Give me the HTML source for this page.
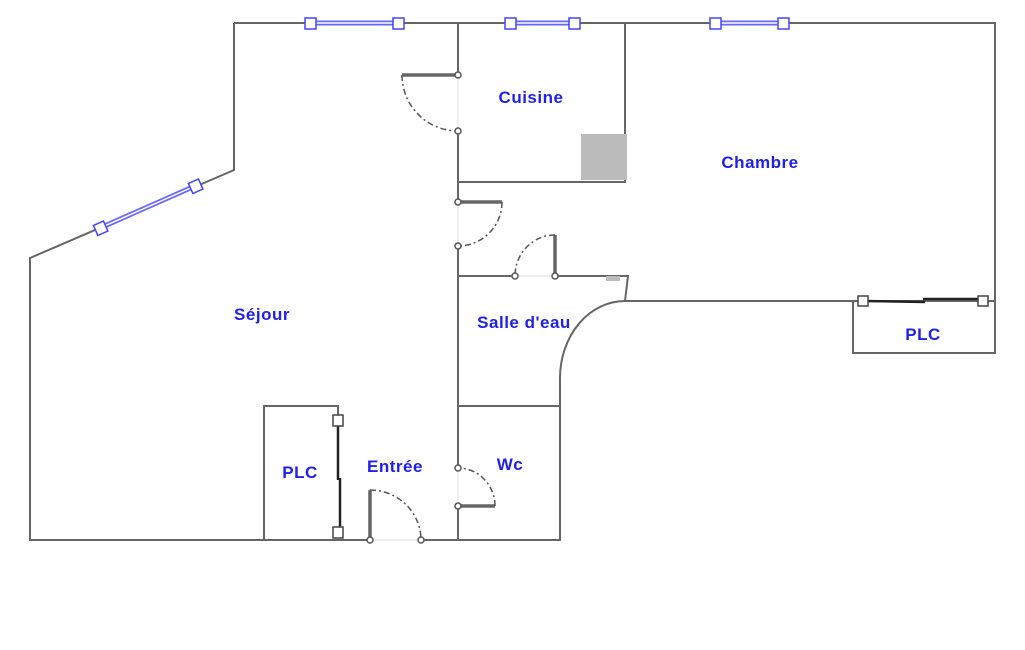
<!DOCTYPE html>
<html><head><meta charset="utf-8"><style>
html,body{margin:0;padding:0;background:#fff;}
svg{display:block}
text{font-family:"Liberation Sans",sans-serif;font-weight:bold;font-size:17px;letter-spacing:0.5px;fill:#2020ee;text-anchor:middle;}
</style></head><body>
<svg width="1025" height="650" viewBox="0 0 1025 650">
<g fill="none" stroke="#666" stroke-width="2">
<polyline points="234,23 995,23 995,353 853,353 853,301"/>
<polyline points="234,23 234,170 30,258 30,540 370,540"/>
<polyline points="421,540 560,540 560,378"/>
<path d="M560,378 A65,77 0 0 1 625,301 L995,301"/>
<polyline points="458,23 458,75"/>
<polyline points="458,131 458,202"/>
<polyline points="458,246 458,468"/>
<polyline points="458,506 458,540"/>
<polyline points="458,182 625,182 625,23"/>
<polyline points="458,276 515,276"/>
<polyline points="555,276 628,276 625,301"/>
<polyline points="458,406 560,406"/>
<polyline points="264,540 264,406 338,406 338,420"/>
</g>
<rect x="581" y="134" width="46" height="46" fill="#bbb"/>
<rect x="606" y="276" width="14" height="5" fill="#bbb"/>
<g stroke="#666" stroke-width="3.5" fill="none">
<line x1="402" y1="75" x2="458" y2="75"/>
<line x1="458" y1="202" x2="502" y2="202"/>
<line x1="555" y1="235" x2="555" y2="276"/>
<line x1="458" y1="506" x2="495" y2="506"/>
<line x1="370" y1="490" x2="370" y2="540"/>
</g>
<g stroke="#555" stroke-width="1.5" fill="none" stroke-dasharray="6,3,2,3">
<path d="M402,75 A56,56 0 0 0 458,131"/>
<path d="M502,202 A44,44 0 0 1 458,246"/>
<path d="M555,235 A40,41 0 0 0 515,276"/>
<path d="M495,506 A37,38 0 0 0 458,468"/>
<path d="M370,490 A51,50 0 0 1 421,540"/>
</g>
<g stroke="#ddd" stroke-width="1">
<line x1="458" y1="75" x2="458" y2="131"/><line x1="458" y1="202" x2="458" y2="246"/>
<line x1="515" y1="276" x2="555" y2="276"/><line x1="458" y1="468" x2="458" y2="506"/>
<line x1="370" y1="540" x2="421" y2="540"/>
</g>
<g fill="#fff" stroke="#555" stroke-width="1.5">
<circle cx="458" cy="75" r="3"/><circle cx="458" cy="131" r="3"/>
<circle cx="458" cy="202" r="3"/><circle cx="458" cy="246" r="3"/>
<circle cx="515" cy="276" r="3"/><circle cx="555" cy="276" r="3"/>
<circle cx="458" cy="468" r="3"/><circle cx="458" cy="506" r="3"/>
<circle cx="370" cy="540" r="3"/><circle cx="421" cy="540" r="3"/>
</g>
<g stroke="#222" stroke-width="2.5">
<line x1="338" y1="420" x2="338" y2="480"/><line x1="340" y1="478" x2="340" y2="532"/>
<line x1="863" y1="301" x2="925" y2="302"/><line x1="923" y1="299" x2="983" y2="299"/>
</g>
<g fill="#fff" stroke="#444" stroke-width="1.5">
<rect x="333" y="415" width="10" height="11"/><rect x="333" y="527" width="10" height="11"/>
<rect x="858" y="296" width="10" height="10"/><rect x="978" y="296" width="10" height="10"/>
</g>
<g stroke="#6666ff" stroke-width="5"><line x1="310" y1="23" x2="398" y2="23"/><line x1="510" y1="23" x2="574" y2="23"/><line x1="715" y1="23" x2="783" y2="23"/><line x1="100" y1="228" x2="195" y2="186"/></g>
<g stroke="#fff" stroke-width="1.5"><line x1="310" y1="23" x2="398" y2="23"/><line x1="510" y1="23" x2="574" y2="23"/><line x1="715" y1="23" x2="783" y2="23"/><line x1="100" y1="228" x2="195" y2="186"/></g>
<g fill="#fff" stroke="#4444ff" stroke-width="1.5">
<rect x="305" y="18" width="11" height="11"/><rect x="393" y="18" width="11" height="11"/>
<rect x="505" y="18" width="11" height="11"/><rect x="569" y="18" width="11" height="11"/>
<rect x="710" y="18" width="11" height="11"/><rect x="778" y="18" width="11" height="11"/>
<rect x="95" y="223" width="11" height="11" transform="rotate(-24 100 228)"/>
<rect x="190" y="181" width="11" height="11" transform="rotate(-24 195 186)"/>
</g>
<text x="531" y="103">Cuisine</text>
<text x="760" y="168">Chambre</text>
<text x="262" y="320">Séjour</text>
<text x="524" y="328">Salle d'eau</text>
<text x="300" y="478">PLC</text>
<text x="395" y="472">Entrée</text>
<text x="510" y="470">Wc</text>
<text x="923" y="340">PLC</text>
</svg>
</body></html>
